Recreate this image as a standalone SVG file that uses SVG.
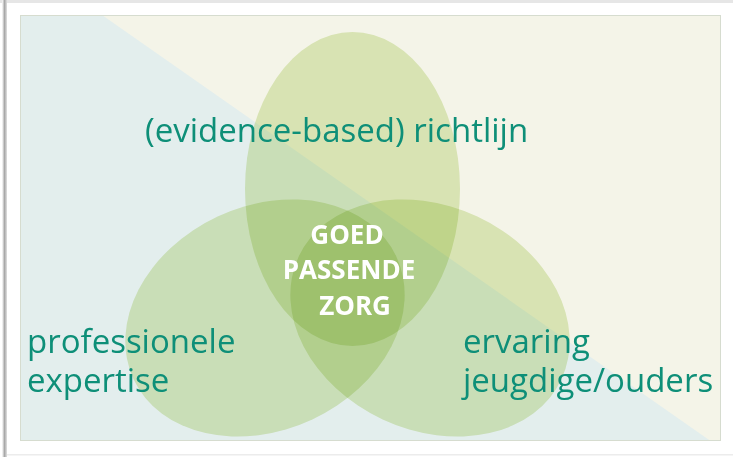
<svg xmlns="http://www.w3.org/2000/svg" width="733" height="457" viewBox="0 0 733 457">
  <defs>
    <linearGradient id="shadowL" x1="0" y1="0" x2="1" y2="0">
      <stop offset="0" stop-color="#ffffff"/>
      <stop offset="0.5" stop-color="#a8a8a8"/>
      <stop offset="1" stop-color="#e0e0e0"/>
    </linearGradient>
  </defs>
  <style>
    .lbl { font-family: "Open Sans", "Noto Sans", sans-serif; fill: #0e8f78; font-size: 33px; }
    .ctr { font-family: "Open Sans", "Noto Sans", sans-serif; fill: #ffffff; font-size: 26px; font-weight: bold; text-anchor: middle; }
    .ell { fill: #e2eec5; mix-blend-mode: multiply; }
  </style>
  <rect x="0" y="0" width="733" height="457" fill="#ffffff"/>
  <rect x="0" y="0" width="733" height="3" fill="#e6e6e6"/>
  <rect x="2" y="0" width="5" height="457" fill="url(#shadowL)"/>
  <rect x="7" y="454" width="726" height="1.5" fill="#ececec"/>
  <rect x="20" y="15" width="701" height="426" fill="#e3eeed"/>
  <polygon points="102,15 721,15 721,441 710.6,441" fill="#f4f4e8"/>
  <rect x="20.5" y="15.5" width="700" height="425" fill="none" stroke="#d6dccf" stroke-width="1"/>
  <g id="node-richtlijn" class="ell">
    <ellipse cx="352.5" cy="189" rx="107.5" ry="157"/>
  </g>
  <g id="node-expertise" class="ell">
    <ellipse cx="265" cy="318" rx="145" ry="112" transform="rotate(-25 265 318)"/>
  </g>
  <g id="node-ervaring" class="ell">
    <ellipse cx="430" cy="318" rx="145" ry="112" transform="rotate(25 430 318)"/>
  </g>
  <g id="labels">
    <text class="lbl" x="145" y="142">(evidence-based) richtlijn</text>
    <text class="lbl" x="27" y="353">professionele</text>
    <text class="lbl" x="27" y="391.5">expertise</text>
    <text class="lbl" x="463" y="353">ervaring</text>
    <text class="lbl" x="463" y="391.5">jeugdige/ouders</text>
  </g>
  <g id="node-center">
    <text class="ctr" x="347" y="243.5">GOED</text>
    <text class="ctr" x="349" y="278.5">PASSENDE</text>
    <text class="ctr" x="355" y="315">ZORG</text>
  </g>
  <g id="connectors"></g>
</svg>
